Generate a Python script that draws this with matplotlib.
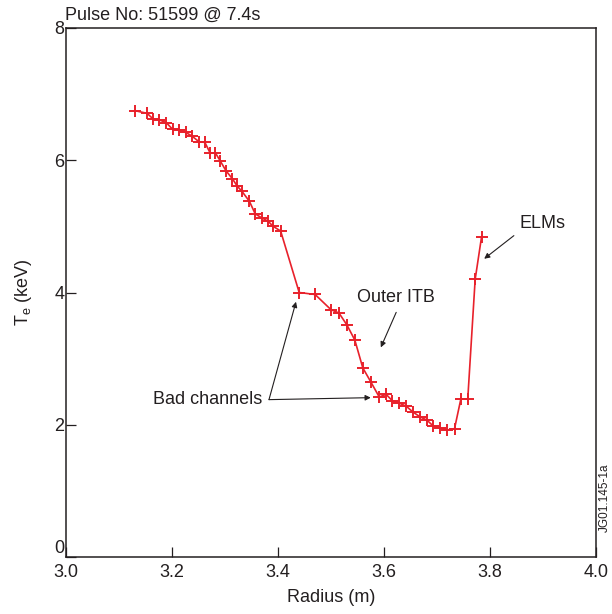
import matplotlib
matplotlib.use('Agg')
import matplotlib.pyplot as plt

# electron temperature profile
radius = [3.130, 3.153, 3.165, 3.176, 3.189, 3.201, 3.214, 3.226, 3.237, 3.251,
          3.262, 3.272, 3.282, 3.291, 3.302, 3.314, 3.323, 3.332, 3.346, 3.357,
          3.369, 3.381, 3.391, 3.405, 3.440, 3.470, 3.500, 3.515, 3.530, 3.545,
          3.560, 3.575, 3.591, 3.604, 3.616, 3.628, 3.642, 3.655, 3.668, 3.681,
          3.693, 3.706, 3.719, 3.733, 3.745, 3.758, 3.772, 3.784]
te_kev = [6.75, 6.71, 6.62, 6.61, 6.57, 6.47, 6.45, 6.42, 6.37, 6.28,
          6.27, 6.11, 6.11, 5.99, 5.84, 5.72, 5.61, 5.53, 5.38, 5.19,
          5.13, 5.08, 5.00, 4.93, 4.00, 3.97, 3.74, 3.69, 3.51, 3.28,
          2.86, 2.65, 2.42, 2.46, 2.36, 2.33, 2.28, 2.19, 2.12, 2.07,
          1.98, 1.95, 1.92, 1.94, 2.39, 2.39, 4.20, 4.84]

x_ticks = [3.0, 3.2, 3.4, 3.6, 3.8, 4.0]
y_ticks = [0, 2, 4, 6, 8]

plt.rcParams['font.family'] = ['Liberation Sans', 'DejaVu Sans']
plt.rcParams['mathtext.default'] = 'regular'
txt = '#231f20'

fig = plt.figure(figsize=(6.12, 6.14), dpi=100)
ax = fig.add_axes([0.1078, 0.0928, 0.8661, 0.8616])

ax.plot(radius, te_kev, '+-', color='#e8212b', lw=1.2, markersize=8, mew=1.4)

ax.set_xlim(3.0, 4.0)
ax.set_ylim(0, 8)
ax.set_xticks(x_ticks)
ax.set_xticklabels([f'{v:.1f}' for v in x_ticks])
ax.set_yticks(y_ticks)
ax.set_yticklabels([str(v) for v in y_ticks])
ax.tick_params(direction='in', length=7, width=0.9, labelsize=13,
               colors=txt, top=False, right=False)
ax.tick_params(axis='x', pad=5)
ax.tick_params(axis='y', pad=1)
# the zero label sits on the axis line, above the 3.0
ax.get_yticklabels()[0].set_va('bottom')
for s in ax.spines.values():
    s.set_linewidth(1.1)
    s.set_color(txt)

ax.set_xlabel('Radius (m)', fontsize=13, color=txt, labelpad=6)
ax.set_ylabel('T$_e$ (keV)', fontsize=13, color=txt, labelpad=15)

fig.text(0.106, 0.968, 'Pulse No: 51599 @ 7.4s', fontsize=13, color=txt,
         va='baseline', ha='left')
fig.text(0.988, 0.189, 'JG01.145-1a', fontsize=8.5, color=txt,
         rotation=90, va='center', ha='center')

arrow = dict(arrowstyle='-|>', color=txt, lw=0.8, mutation_scale=8,
             shrinkA=0, shrinkB=0)

ax.text(3.370, 2.38, 'Bad channels', fontsize=13, color=txt,
        ha='right', va='center')
ax.annotate('', xy=(3.434, 3.86), xytext=(3.383, 2.38), arrowprops=arrow)
ax.annotate('', xy=(3.575, 2.41), xytext=(3.383, 2.38), arrowprops=arrow)

ax.text(3.549, 3.92, 'Outer ITB', fontsize=13, color=txt,
        ha='left', va='center')
ax.annotate('', xy=(3.594, 3.17), xytext=(3.623, 3.70), arrowprops=arrow)

ax.text(3.855, 5.05, 'ELMs', fontsize=13, color=txt,
        ha='left', va='center')
ax.annotate('', xy=(3.789, 4.51), xytext=(3.845, 4.86), arrowprops=arrow)

fig.savefig('out.png', dpi=100)
